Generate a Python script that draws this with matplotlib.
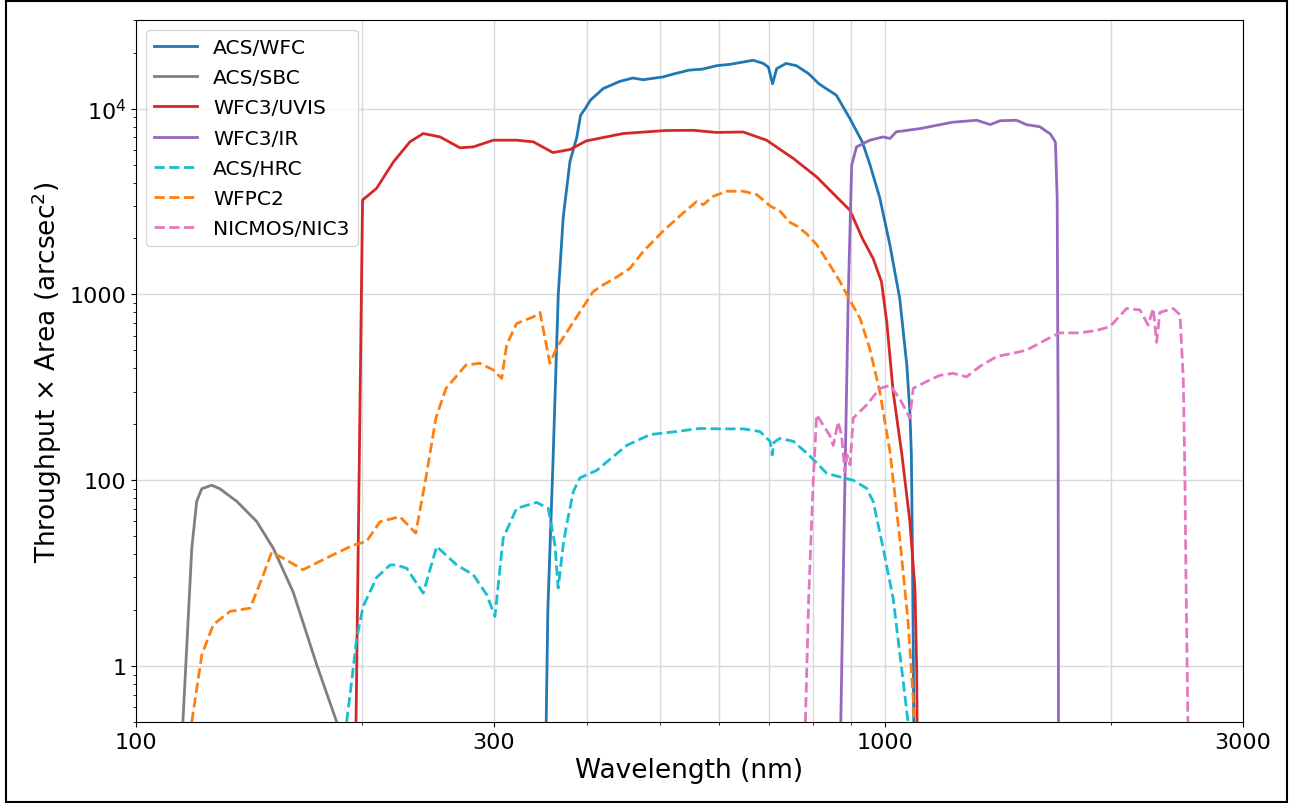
import matplotlib
matplotlib.use('Agg')
import matplotlib.pyplot as plt
from matplotlib.ticker import FixedLocator, NullFormatter, LogLocator
from matplotlib.patches import Rectangle

# wavelengths in nm, throughput x area values
wfc_wl = [352, 354.5, 360, 366, 371.6, 379.4, 387.4, 392, 397.6, 404, 420, 442, 460, 475, 505,
          520, 547, 570, 595, 620, 646, 666, 687, 698, 707, 716, 737, 761, 790, 815,
          860, 896.6, 931.7, 953.5, 983, 1014, 1045, 1068, 1078, 1083, 1086, 1089, 1092]
wfc_v = [3, 20.5, 121, 1000, 2600, 5200, 7000, 9210, 10000, 11100, 12800, 14000, 14600, 14300, 14800,
         15300, 16100, 16300, 17000, 17300, 17800, 18200, 17500, 16700, 13600, 16400, 17500, 17000, 15400, 13600,
         11800, 8840, 6600, 5000, 3300, 1840, 950, 415, 234, 137, 48.8, 14.1, 3]

sbc_wl = [114, 115.5, 118.7, 120.5, 122.4, 126.2, 129.4, 136.3, 144.9, 152.5, 162.1, 174.2, 185.3, 190]
sbc_v = [1, 5, 43, 77, 90, 94, 90, 77, 60, 43, 25, 10.2, 5, 3]

uvis_wl = [196.3, 200.6, 209.4, 220.6, 232, 241.7, 254.5, 270.6, 281.9, 299.8,
           322, 339, 360, 379.4, 399, 446.6, 509, 554, 595, 646,
           694, 753.6, 809.5, 869.6, 896.6, 931.7, 963, 988, 1004, 1024,
           1052, 1078, 1095, 1101, 1103]
uvis_v = [3, 3220, 3720, 5170, 6620, 7340, 7040, 6150, 6220, 6760,
          6760, 6620, 5800, 6020, 6700, 7340, 7620, 7640, 7440, 7480,
          6760, 5390, 4290, 3210, 2840, 2000, 1560, 1170, 713, 300,
          137, 60, 26.3, 9.4, 3]

ir_wl = [870, 883, 892, 901.5, 915, 953.5, 993, 1014, 1034, 1112, 1228, 1324, 1380, 1422,
         1496, 1542, 1608, 1643, 1660, 1686, 1695, 1700, 1702]
ir_v = [3, 98, 951, 4950, 6220, 6760, 7040, 6900, 7500, 7800, 8440, 8650, 8200, 8600,
        8650, 8200, 7980, 7500, 7300, 6600, 3300, 215, 3]

hrc_wl = [191, 194, 197, 201, 209.5, 218.3, 222.8, 229.7, 241.7, 251.9,
          267.9, 281.9, 293.8, 301.3, 309, 322, 342.4, 354.9, 362.2, 365.9,
          371.6, 375.5, 383.3, 391.2, 399.3, 411.8, 451.6, 485.1, 526.7, 565.6,
          601, 646, 680, 701.6, 706.3, 710, 723, 753.6, 790, 835,
          878.5, 905.8, 943.8, 963.2, 993.2, 1024, 1056, 1072, 1080]
hrc_v = [5, 8.3, 14.1, 21, 30, 35, 35, 33.6, 24.7, 44,
         35, 31, 24.2, 18.5, 48.8, 70.6, 76, 70.6, 45, 26.3,
         45, 57.5, 87, 103, 107, 113, 154, 176, 183, 190,
         189, 189, 183, 162, 137, 160, 168, 162, 137, 109,
         103, 100, 90.5, 76.8, 43, 23.2, 8.3, 5, 3]

wfpc2_wl = [118.7, 122.4, 126.8, 133.5, 142, 147.9, 151.7, 157.3, 167.1, 181.5,
            194.8, 203, 211.6, 225, 236.2, 243.6, 251.3, 259.2, 275.6, 287.7,
            299.8, 307.6, 312.3, 322, 339, 346, 356.7, 364, 383.5, 407,
            416, 438, 456, 475, 505, 537, 560, 571.5, 589, 614,
            646, 673, 702, 723, 746, 761, 785, 810, 843, 870,
            888, 925, 953, 983, 1014, 1045, 1072, 1089, 1100]
wfpc2_v = [5, 11.5, 16.7, 19.7, 20.5, 31, 41, 38, 33, 39,
           44.7, 46.8, 59.8, 63.7, 51.9, 102, 216, 312, 417, 426,
           392, 353, 535, 697, 757, 800, 426, 514, 712, 1030,
           1100, 1240, 1380, 1700, 2190, 2740, 3160, 3040, 3370, 3590,
           3590, 3450, 2990, 2810, 2440, 2340, 2120, 1850, 1440, 1170,
           1000, 743, 511, 299, 143, 48.8, 17.4, 6.7, 3]

nic3_wl = [782, 790, 801, 809.5, 826, 843, 852, 865, 874, 883,
           889, 897, 906, 915, 944, 983, 1014, 1045, 1078, 1089,
           1135, 1182, 1232, 1283, 1337, 1407, 1481, 1543, 1641, 1709,
           1817, 1913, 1993, 2098, 2186, 2242, 2277, 2301, 2324, 2421,
           2472, 2497, 2510, 2518, 2533]
nic3_v = [5, 23.2, 98, 225, 198, 174, 154, 206, 174, 111,
          137, 121, 216, 225, 254, 312, 324, 275, 216, 312,
          340, 367, 376, 360, 410, 463, 483, 501, 573, 621,
          621, 640, 670, 840, 825, 683, 840, 553, 800, 840,
          778, 354, 103, 29.7, 5]

ytick_pos = [10, 100, 1000, 1e4]
ytick_labels = ['1', '100', '1000', r'$10^4$']
xtick_pos = [100, 300, 1000, 3000]
xtick_labels = ['100', '300', '1000', '3000']

fig = plt.figure(figsize=(12.89, 8.04), dpi=100)
ax = fig.add_axes([0.1055, 0.1007, 0.8588, 0.8733])

ax.plot(wfc_wl, wfc_v, color='tab:blue', lw=2, label='ACS/WFC')
ax.plot(sbc_wl, sbc_v, color='tab:gray', lw=2, label='ACS/SBC')
ax.plot(uvis_wl, uvis_v, color='tab:red', lw=2, label='WFC3/UVIS')
ax.plot(ir_wl, ir_v, color='tab:purple', lw=2, label='WFC3/IR')
ax.plot(hrc_wl, hrc_v, color='tab:cyan', lw=2, ls='--', label='ACS/HRC')
ax.plot(wfpc2_wl, wfpc2_v, color='tab:orange', lw=2, ls='--', label='WFPC2')
ax.plot(nic3_wl, nic3_v, color='tab:pink', lw=2, ls='--', label='NICMOS/NIC3')

ax.set_xscale('log')
ax.set_yscale('log')
ax.set_xlim(100, 3000)
ax.set_ylim(5, 3e4)

ax.xaxis.set_major_locator(FixedLocator(xtick_pos))
ax.set_xticklabels(xtick_labels)
ax.xaxis.set_minor_locator(LogLocator(base=10, subs=range(2, 10)))
ax.xaxis.set_minor_formatter(NullFormatter())
ax.yaxis.set_major_locator(FixedLocator(ytick_pos))
ax.set_yticklabels(ytick_labels)
ax.yaxis.set_minor_locator(LogLocator(base=10, subs=range(2, 10)))
ax.yaxis.set_minor_formatter(NullFormatter())
ax.tick_params(labelsize=16)

ax.grid(which='major', color='0.85', lw=1)
ax.xaxis.grid(which='minor', color='0.85', lw=1)
ax.set_axisbelow(True)

ax.set_xlabel('Wavelength (nm)', fontsize=19)
ax.set_ylabel(r'Throughput $\times$ Area (arcsec$^2$)', fontsize=19)
ax.legend(loc='upper left', fontsize=14.6, handlelength=2.1, labelspacing=0.55)

# screenshot frame
fig.patches.append(Rectangle((6 / 1289, 1 / 804), 1281 / 1289, 801 / 804,
                             transform=fig.transFigure, fill=False,
                             edgecolor='black', lw=1.5))

fig.savefig('out.png', dpi=100)
